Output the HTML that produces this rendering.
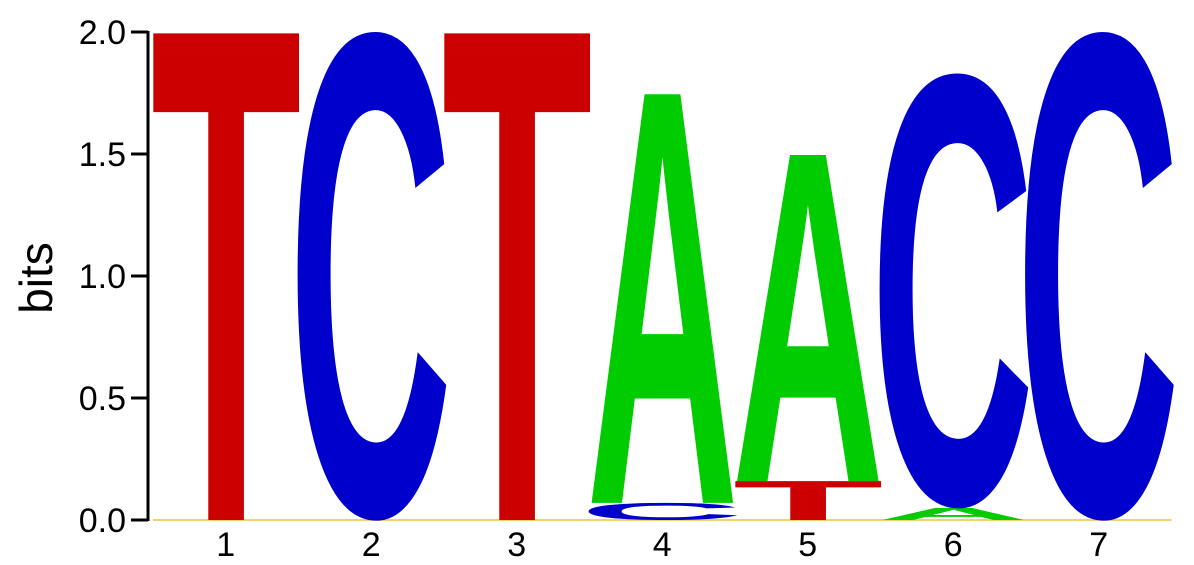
<!DOCTYPE html>
<html><head><meta charset="utf-8"><style>
html,body{margin:0;background:#fff;overflow:hidden;width:1194px;height:565px;}
svg{display:block;font-family:"Liberation Sans",sans-serif;}
</style></head><body>
<svg id="logo" width="1194" height="565" viewBox="0 0 1194 565">
<g id="axis"></g>
<g id="letters"></g>
<g id="xlabels"></g>
<text transform="translate(52,278) rotate(-90)" text-anchor="middle" font-size="46">bits</text>
</svg>
<script>
const positions = ["1","2","3","4","5","6","7"];
const stackLetters = [["T"],["C"],["T"],["C","A"],["T","A"],["A","C"],["C"]];
const stackHeights = [[2.0],[2.0],[2.0],[0.07,1.68],[0.16,1.34],[0.05,1.78],[2.0]];
const yTicks = [0,0.5,1.0,1.5,2.0];
const yTickLabels = ["0.0","0.5","1.0","1.5","2.0"];

const NS="http://www.w3.org/2000/svg";
const y0=520, pxPerBit=244, xStart=153, colW=145.5;
const ys=v=>y0-v*pxPerBit;
const colors={A:"#00cc00",C:"#0000cc",G:"#ffb300",T:"#cc0000"};
// glyph metrics (em fractions): [leftBearing, inkWidth, inkHeight, descent]
const ink={A:[0.015,0.69,0.690,0],C:[0.045,0.64,0.707,0.0088],T:[0.01,0.588,0.690,0],G:[0.045,0.64,0.707,0.0088]};

const ax=document.getElementById('axis');
function mk(tag,attrs,parent){const e=document.createElementNS(NS,tag);for(const k in attrs)e.setAttribute(k,attrs[k]);parent.appendChild(e);return e;}
const axl=mk('line',{x1:148,x2:148,y1:ys(2)-1,y2:y0+1,stroke:'#000','stroke-width':3},ax);


const base=mk('line',{x1:xStart,x2:xStart+colW*7,y1:y0,y2:y0,stroke:'#f0c040','stroke-width':1.5},ax);


yTicks.forEach((v,i)=>{
  const t=mk('line',{x1:131,x2:148,y1:ys(v),y2:ys(v),stroke:'#000','stroke-width':3},ax);
  
  
  const l=mk('text',{x:126,y:ys(v)+12,'text-anchor':'end','font-size':34},ax);
  l.textContent=yTickLabels[i];
  
  
});
const lg=document.getElementById('letters');
const xl=document.getElementById('xlabels');
positions.forEach((p,i)=>{
  const x0=xStart+i*colW;
  let acc=0;
  stackLetters[i].forEach((L,j)=>{
    const h=stackHeights[i][j];
    const yb=ys(acc), yt=ys(acc+h);
    acc+=h;
    const hp=yb-yt; if(hp<=0.5)return;
    const m=ink[L];
    const sx=colW/(m[1]*100), sy=hp/(m[2]*100);
    const t=mk('text',{x:-m[0]*100,y:-m[3]*100,'font-size':100,'font-weight':'bold',fill:colors[L],transform:`translate(${x0},${yb}) scale(${sx},${sy})`},lg);
    t.textContent=L;
    
    
  });
  const lab=mk('text',{x:x0+colW/2,y:556,'text-anchor':'middle','font-size':34},xl);
  lab.textContent=p;
  
  
});
</script>
</body></html>
